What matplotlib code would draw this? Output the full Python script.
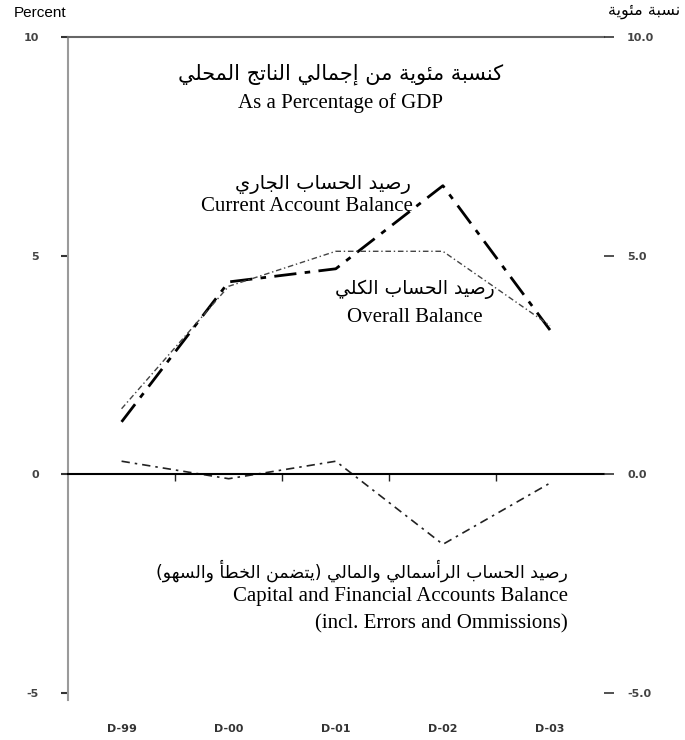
import matplotlib
matplotlib.use("Agg")
import matplotlib.pyplot as plt

# --- data (percent of GDP) ---
periods = ["D-99", "D-00", "D-01", "D-02", "D-03"]
current_account = [1.2, 4.4, 4.7, 6.6, 3.3]
overall_balance = [1.5, 4.3, 5.1, 5.1, 3.4]
capital_financial = [0.3, -0.1, 0.3, -1.6, -0.2]

left_ticks = [10, 5, 0, -5]
left_labels = ["10", "5", "0", "-5"]
right_labels = ["10.0", "5.0", "0.0", "-5.0"]

# --- Arabic text: simple contextual shaping into presentation forms ---
_forms = [('ء', 0xFE80, 1), ('آ', 0xFE81, 2), ('أ', 0xFE83, 2), ('ؤ', 0xFE85, 2),
          ('إ', 0xFE87, 2), ('ئ', 0xFE89, 4), ('ا', 0xFE8D, 2), ('ب', 0xFE8F, 4),
          ('ة', 0xFE93, 2), ('ت', 0xFE95, 4), ('ث', 0xFE99, 4), ('ج', 0xFE9D, 4),
          ('ح', 0xFEA1, 4), ('خ', 0xFEA5, 4), ('د', 0xFEA9, 2), ('ذ', 0xFEAB, 2),
          ('ر', 0xFEAD, 2), ('ز', 0xFEAF, 2), ('س', 0xFEB1, 4), ('ش', 0xFEB5, 4),
          ('ص', 0xFEB9, 4), ('ض', 0xFEBD, 4), ('ط', 0xFEC1, 4), ('ظ', 0xFEC5, 4),
          ('ع', 0xFEC9, 4), ('غ', 0xFECD, 4), ('ف', 0xFED1, 4), ('ق', 0xFED5, 4),
          ('ك', 0xFED9, 4), ('ل', 0xFEDD, 4), ('م', 0xFEE1, 4), ('ن', 0xFEE5, 4),
          ('ه', 0xFEE9, 4), ('و', 0xFEED, 2), ('ى', 0xFEEF, 2), ('ي', 0xFEF1, 4)]
FORMS = {c: (start, n) for c, start, n in _forms}


def ar(s):
    out = []
    for i, c in enumerate(s):
        if c not in FORMS:
            out.append(c)
            continue
        start, n = FORMS[c]
        prev = s[i - 1] if i > 0 else ''
        nxt = s[i + 1] if i + 1 < len(s) else ''
        jp = n >= 2 and prev in FORMS and FORMS[prev][1] == 4
        jn = n == 4 and nxt in FORMS and FORMS[nxt][1] >= 2
        if jp and jn:
            k = 3
        elif jp:
            k = 1
        elif jn:
            k = 2
        else:
            k = 0
        out.append(chr(start + k))
    swap = {'(': ')', ')': '('}
    return ''.join(swap.get(c, c) for c in reversed(out))


title_ar = "كنسبة مئوية من إجمالي الناتج المحلي"
title_en = "As a Percentage of GDP"
ca_ar = "رصيد الحساب الجاري"
ca_en = "Current Account Balance"
ob_ar = "رصيد الحساب الكلي"
ob_en = "Overall Balance"
cf_ar = "رصيد الحساب الرأسمالي والمالي (يتضمن الخطأ والسهو)"
cf_en1 = "Capital and Financial Accounts Balance"
cf_en2 = "(incl. Errors and Ommissions)"
unit_ar = "نسبة مئوية"

serif = "Liberation Serif"
arab = "DejaVu Sans"

fig = plt.figure(figsize=(6.85, 7.4), dpi=100)
ax = fig.add_axes([0.0993, 0.0635, 0.7818, 0.8865])
x = list(range(len(periods)))

ax.plot(x, current_account, color="black", lw=2.0, ls=(0, (8, 3, 2, 3)))
ax.plot(x, overall_balance, color="#444444", lw=1.0, ls=(0, (4, 2, 1, 2)))
ax.plot(x, capital_financial, color="#222222", lw=1.2, ls=(0, (5, 3, 1.5, 3)))

ax.set_xlim(-0.5, 4.5)
ax.set_ylim(-5, 10)

# spines
ax.spines["right"].set_visible(False)
ax.spines["left"].set_color("#9a9a9a")
ax.spines["left"].set_linewidth(1.5)
ax.spines["left"].set_bounds(-5.15, 10)
ax.spines["top"].set_color("#666666")
ax.spines["top"].set_linewidth(1.5)
ax.spines["bottom"].set_position(("data", 0))
ax.spines["bottom"].set_color("black")
ax.spines["bottom"].set_linewidth(1.5)

# x: boundary ticks on the zero line, labels at the bottom
ax.set_xticks([0.5, 1.5, 2.5, 3.5], minor=True)
ax.set_xticks([])
ax.tick_params(axis="x", which="minor", direction="out", length=5, width=1, color="#222222")
sec = ax.secondary_xaxis("bottom")
sec.set_xticks(x, periods)
sec.spines["bottom"].set_visible(False)
sec.tick_params(length=0, pad=22, labelsize=8, labelcolor="#333333")
for t in sec.get_xticklabels():
    t.set_fontweight("bold")

# y ticks
ax.set_yticks(left_ticks, left_labels)
ax.tick_params(axis="y", direction="out", length=5, width=1.5, color="#333333",
               pad=16, labelsize=8, labelcolor="#444444")
for t in ax.get_yticklabels():
    t.set_fontweight("bold")

ax2 = ax.twinx()
ax2.set_ylim(-5, 10)
for s in ["left", "right", "top", "bottom"]:
    ax2.spines[s].set_visible(False)
ax2.set_yticks(left_ticks, right_labels)
ax2.tick_params(axis="y", direction="out", length=7, width=1.2, color="#333333",
                pad=10, labelsize=8, labelcolor="#444444")
for t in ax2.get_yticklabels():
    t.set_fontweight("bold")

# annotations
ax.text(2.04, 9.15, ar(title_ar), family=arab, fontsize=15, ha="center", va="center")
ax.text(2.04, 8.5, title_en, family=serif, fontsize=15, ha="center", va="center")
ax.text(2.70, 6.63, ar(ca_ar), family=arab, fontsize=14, ha="right", va="center")
ax.text(2.72, 6.13, ca_en, family=serif, fontsize=15, ha="right", va="center")
ax.text(2.74, 4.23, ar(ob_ar), family=arab, fontsize=13.5, ha="center", va="center")
ax.text(2.74, 3.59, ob_en, family=serif, fontsize=15, ha="center", va="center")
ax.text(4.17, -2.2, ar(cf_ar), family=arab, fontsize=12.5, ha="right", va="center")
ax.text(4.17, -2.8, cf_en1, family=serif, fontsize=15, ha="right", va="center")
ax.text(4.17, -3.43, cf_en2, family=serif, fontsize=15, ha="right", va="center")

fig.text(0.02, 0.983, "Percent", family="Liberation Sans", fontsize=11, ha="left", va="center")
fig.text(0.993, 0.985, ar(unit_ar), family=arab, fontsize=11.5, ha="right", va="center")

fig.savefig("out.png", dpi=100)
